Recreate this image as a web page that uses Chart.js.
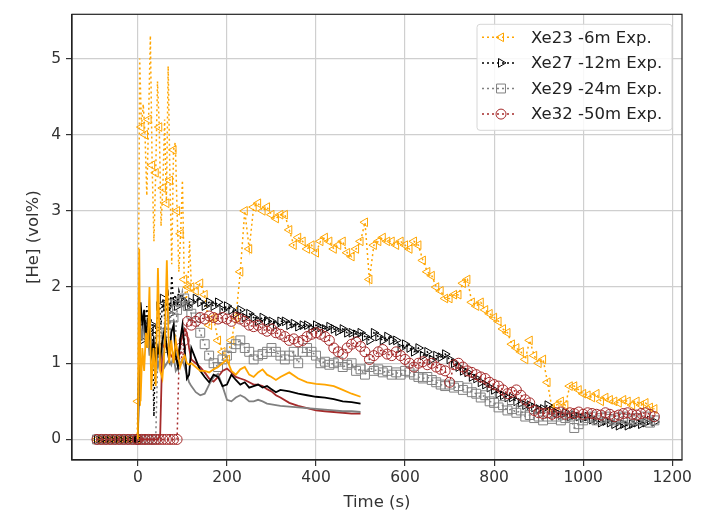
<!DOCTYPE html>
<html>
<head>
<meta charset="utf-8">
<title>[He] vs time</title>
<script src="https://cdn.jsdelivr.net/npm/chart.js@4.4.0/dist/chart.umd.min.js"></script>
<style>
  html, body { margin: 0; padding: 0; background: #fff; }
  #wrap { width: 704px; height: 513px; }
</style>
</head>
<body>
<div id="wrap"><canvas id="heChart" width="704" height="513"></canvas></div>
<script>
// measurement times (s), shared by the four sensors
const expTime = [
  -92, -82, -72, -62, -52, -42, -32, -22, -12, -2,
  0, 4, 8, 12, 16, 20, 24, 28, 32, 36, 40, 44, 48, 52, 56, 60, 64, 68, 72, 76,
  80, 84, 88, 92, 96, 100, 104, 108, 112, 116, 120,
  130, 140, 150, 160, 170, 180, 190, 200, 210, 220,
  230, 240, 250, 260, 270, 280, 290, 300, 310, 320,
  330, 340, 350, 360, 370, 380, 390, 400, 410, 420,
  430, 440, 450, 460, 470, 480, 490, 500, 510, 520,
  530, 540, 550, 560, 570, 580, 590, 600, 610, 620,
  630, 640, 650, 660, 670, 680, 690, 700, 710, 720,
  730, 740, 750, 760, 770, 780, 790, 800, 810, 820,
  830, 840, 850, 860, 870, 880, 890, 900, 910, 920,
  930, 940, 950, 960, 970, 980, 990, 1000, 1010, 1020,
  1030, 1040, 1050, 1060, 1070, 1080, 1090, 1100, 1110, 1120,
  1130, 1140, 1150, 1160
];

// measured [He] vol%
const xe23 = [
  0, 0, 0, 0, 0, 0, 0, 0, 0, 0,
  0.5, 5.0, 4.1, 4.4, 4.0, 3.2, 4.2, 5.3, 3.6, 2.6, 3.5, 4.7, 4.1, 2.8, 3.3, 4.2, 3.1, 4.9, 3.4, 2.3,
  3.8, 3.9, 3.0, 2.2, 2.7, 3.4, 2.1, 1.8, 2.0, 2.6, 2.0,
  1.95, 2.05, 1.9, 1.5, 1.6, 1.3, 1.15, 1.05, 1.3, 1.6,
  2.2, 3.0, 2.5, 3.05, 3.1, 3.0, 3.05, 2.95, 2.9, 2.95,
  2.95, 2.75, 2.55, 2.65, 2.6, 2.5, 2.55, 2.45, 2.6, 2.65,
  2.6, 2.5, 2.55, 2.6, 2.45, 2.4, 2.5, 2.6, 2.85, 2.1,
  2.55, 2.6, 2.65, 2.6, 2.6, 2.55, 2.6, 2.55, 2.5, 2.6,
  2.55, 2.35, 2.2, 2.15, 2.0, 1.95, 1.85, 1.85, 1.9, 1.9,
  2.05, 2.1, 1.8, 1.75, 1.8, 1.7, 1.65, 1.6, 1.55, 1.45,
  1.4, 1.25, 1.2, 1.15, 1.05, 1.3, 1.1, 1.0, 1.05, 0.75,
  0.4, 0.45, 0.5, 0.45, 0.7, 0.7, 0.65, 0.6, 0.58, 0.55,
  0.6, 0.5, 0.55, 0.52, 0.5, 0.48, 0.52, 0.5, 0.45, 0.5,
  0.45, 0.48, 0.42, 0.4
];
const xe27 = [
  0, 0, 0, 0, 0, 0, 0, 0, 0, 0,
  0, 1.8, 1.3, 1.6, 1.5, 1.75, 1.4, 1.6, 1.5, 0.3, 1.45, 1.6, 1.75, 1.5, 1.85, 1.6, 1.75, 1.9, 1.65, 2.15,
  1.8, 1.9, 1.75, 1.95, 1.85, 1.9, 1.8, 1.85, 1.75, 1.8, 1.8,
  1.85, 1.8, 1.75, 1.8, 1.75, 1.8, 1.7, 1.75, 1.7, 1.65,
  1.7, 1.6, 1.65, 1.6, 1.55, 1.6, 1.55, 1.55, 1.5, 1.55,
  1.55, 1.5, 1.52, 1.48, 1.5, 1.5, 1.45, 1.5, 1.47, 1.45,
  1.48, 1.45, 1.42, 1.45, 1.4, 1.4, 1.38, 1.4, 1.35, 1.3,
  1.4, 1.35, 1.3, 1.35, 1.3, 1.3, 1.2, 1.25, 1.2, 1.15,
  1.2, 1.1, 1.15, 1.05, 1.1, 1.08, 1.12, 1.05, 1.0, 0.95,
  0.9, 0.88, 0.82, 0.8, 0.75, 0.72, 0.68, 0.65, 0.6, 0.58,
  0.55, 0.55, 0.5, 0.48, 0.45, 0.45, 0.42, 0.4, 0.4, 0.45,
  0.38, 0.35, 0.32, 0.35, 0.3, 0.32, 0.3, 0.28, 0.3, 0.26,
  0.25, 0.22, 0.24, 0.22, 0.2, 0.18, 0.2, 0.18, 0.2, 0.22,
  0.2, 0.22, 0.25, 0.23
];
const xe29 = [
  0, 0, 0, 0, 0, 0, 0, 0, 0, 0,
  0, 0, 0, 0, 0, 0, 0, 0, 0, 0, 0, 0.95, 1.3, 1.5, 1.2, 1.6, 1.4, 1.75, 1.5, 1.85,
  1.6, 1.3, 1.7, 1.9, 1.8, 1.95, 1.85, 1.8, 1.75, 1.7, 1.65,
  1.6, 1.4, 1.25, 1.1, 1.0, 0.95, 1.05, 1.1, 1.2, 1.25,
  1.3, 1.2, 1.15, 1.05, 1.1, 1.12, 1.15, 1.2, 1.15, 1.1,
  1.05, 1.1, 1.15, 1.0, 1.15, 1.2, 1.15, 1.1, 1.0, 1.02,
  0.98, 1.0, 1.02, 0.95, 0.98, 1.0, 0.9, 0.92, 0.85, 0.95,
  0.9, 0.92, 0.88, 0.9, 0.85, 0.88, 0.85, 0.9, 0.88, 0.85,
  0.82, 0.8, 0.82, 0.78, 0.75, 0.72, 0.7, 0.72, 0.68, 0.7,
  0.65, 0.68, 0.62, 0.6, 0.55, 0.58, 0.5, 0.48, 0.42, 0.45,
  0.38, 0.4, 0.35, 0.38, 0.3, 0.32, 0.28, 0.3, 0.25, 0.3,
  0.27, 0.3, 0.25, 0.28, 0.3, 0.15, 0.2, 0.25, 0.28, 0.3,
  0.25, 0.28, 0.3, 0.27, 0.25, 0.28, 0.3, 0.27, 0.25, 0.28,
  0.25, 0.3, 0.22, 0.25
];
const xe32 = [
  0, 0, 0, 0, 0, 0, 0, 0, 0, 0,
  0, 0, 0, 0, 0, 0, 0, 0, 0, 0, 0, 0, 0, 0, 0, 0, 0, 0, 0, 0,
  0, 0, 0, 0.95, 1.2, 1.0, 1.3, 1.45, 1.55, 1.6, 1.5,
  1.55, 1.6, 1.58, 1.62, 1.6, 1.58, 1.6, 1.58, 1.55, 1.6,
  1.58, 1.55, 1.5, 1.48, 1.5, 1.45, 1.42, 1.45, 1.4, 1.38,
  1.35, 1.3, 1.32, 1.28, 1.3, 1.35, 1.38, 1.4, 1.38, 1.35,
  1.3, 1.2, 1.15, 1.12, 1.2, 1.25, 1.28, 1.22, 1.15, 1.05,
  1.1, 1.15, 1.18, 1.12, 1.1, 1.15, 1.1, 1.05, 1.0, 0.95,
  1.0, 1.02, 0.98, 1.0, 0.95, 0.92, 0.9, 0.75, 0.98, 1.0,
  0.95, 0.9, 0.88, 0.85, 0.82, 0.8, 0.75, 0.72, 0.7, 0.65,
  0.6, 0.62, 0.65, 0.58, 0.52, 0.48, 0.38, 0.35, 0.34, 0.35,
  0.33, 0.35, 0.36, 0.33, 0.35, 0.34, 0.36, 0.33, 0.35, 0.34,
  0.33, 0.32, 0.35, 0.33, 0.3, 0.32, 0.34, 0.35, 0.33, 0.32,
  0.34, 0.35, 0.33, 0.3
];

// simulated [He] vol% (first 500 s)
const simTime = [
  0, 3, 6, 10, 14, 18, 22, 26,
  30, 35, 40, 45, 50, 55, 60, 65, 70, 75, 80, 85, 90, 95, 100, 105, 110, 115, 120,
  130, 140, 150, 160, 170, 180, 190, 200, 210, 220, 230, 240, 250, 260, 270, 280, 290, 300, 310, 320,
  340, 360, 380, 400, 420, 440, 460, 480, 500
];
const simXe23 = [
  0, 2.5, 0.5, 1.2, 0.9, 1.4, 1.2, 2.0,
  0.65, 1.2, 0.7, 2.25, 0.9, 0.8, 1.2, 2.35, 1.0, 1.3, 1.0, 1.3, 1.1, 0.95, 1.05, 1.1, 1.0, 0.98, 1.0,
  0.95, 0.9, 0.9, 0.88, 0.92, 0.95, 1.0, 1.05, 0.9, 0.85, 0.92, 0.95, 0.85, 0.82, 0.88, 0.92, 0.85, 0.82, 0.78, 0.82,
  0.88, 0.8, 0.75, 0.73, 0.72, 0.7, 0.65, 0.6, 0.56
];
const simXe27 = [
  0, 1.2, 1.8, 1.5, 1.7, 1.3, 1.6, 1.4,
  1.1, 1.3, 1.0, 1.2, 1.05, 1.3, 1.45, 1.2, 1.05, 1.4, 1.5, 1.1, 0.95, 1.3, 1.5, 1.2, 0.8, 0.85, 1.2,
  1.05, 0.9, 0.82, 0.75, 0.85, 0.82, 0.7, 0.72, 0.85, 0.78, 0.72, 0.75, 0.68, 0.7, 0.72, 0.68, 0.7, 0.66, 0.62, 0.65,
  0.63, 0.6, 0.58, 0.56, 0.55, 0.53, 0.5, 0.49, 0.47
];
const simXe29 = [
  0, 0.8, 1.5, 1.3, 1.6, 1.2, 1.4, 1.1,
  1.3, 1.0, 1.15, 0.95, 1.1, 1.2, 0.95, 1.0, 1.05, 0.98, 1.1, 0.9, 0.95, 1.0, 1.05, 0.95, 0.85, 0.75, 0.7,
  0.62, 0.58, 0.6, 0.72, 0.82, 0.86, 0.7, 0.52, 0.5, 0.55, 0.58, 0.55, 0.5, 0.5, 0.52, 0.5, 0.47, 0.46, 0.45, 0.44,
  0.43, 0.42, 0.41, 0.4, 0.39, 0.38, 0.37, 0.37, 0.36
];
const simXe32 = [
  0, 0, 0, 0, 0, 0, 0, 0,
  0, 0, 0, 0, 0.05, 1.2, 1.25, 1.2, 1.15, 1.1, 1.05, 1.05, 1.1, 1.25, 1.35, 1.45, 1.4, 1.2, 1.05,
  1.0, 0.95, 0.88, 0.8, 0.76, 0.82, 0.9, 0.93, 0.88, 0.82, 0.8, 0.78, 0.75, 0.72, 0.72, 0.7, 0.66, 0.63, 0.58, 0.55,
  0.48, 0.44, 0.41, 0.38, 0.37, 0.36, 0.35, 0.34, 0.34
];

const xTicks = [0, 200, 400, 600, 800, 1000, 1200];
const yTicks = [0, 1, 2, 3, 4, 5];
const expLabels = ['Xe23 -6m Exp.', 'Xe27 -12m Exp.', 'Xe29 -24m Exp.', 'Xe32 -50m Exp.'];
const colors = ['#ffa500', '#000000', '#808080', '#a52a2a'];
const markers = [
  { pointStyle: 'triangle', rotation: -90, radius: 5 },
  { pointStyle: 'triangle', rotation: 90, radius: 5 },
  { pointStyle: 'rect', rotation: 0, radius: 6.3 },
  { pointStyle: 'circle', rotation: 0, radius: 5 }
];

const FONT = 'DejaVu Sans';

function pairs(xs, ys) {
  return xs.map((x, i) => ({ x: x, y: ys[i] }));
}

// during the fast release phase only every other sample gets a marker
function markerRadius(r) {
  return ctx => {
    const t = expTime[ctx.dataIndex];
    if (t >= 0 && t <= 120 && t % 8 !== 0) return 0;
    return r;
  };
}

function expSet(i, values) {
  return {
    label: expLabels[i],
    data: pairs(expTime, values),
    borderColor: colors[i],
    borderWidth: 1.5,
    borderDash: [2, 3],
    pointStyle: markers[i].pointStyle,
    rotation: markers[i].rotation,
    pointRadius: markerRadius(markers[i].radius),
    pointBorderWidth: 1,
    pointBorderColor: colors[i],
    pointBackgroundColor: 'rgba(0,0,0,0)',
    fill: false,
    order: 5 - i
  };
}

function simSet(i, values) {
  return {
    label: '',
    data: pairs(simTime, values),
    borderColor: colors[i],
    borderWidth: 1.8,
    pointRadius: 0,
    fill: false,
    order: 0
  };
}

// frame on all four sides + legend box in the upper right corner
const frameAndLegend = {
  id: 'frameAndLegend',
  afterDraw(chart) {
    const ctx = chart.ctx;
    const a = chart.chartArea;
    ctx.save();
    ctx.strokeStyle = '#222';
    ctx.lineWidth = 1.2;
    ctx.strokeRect(a.left, a.top, a.right - a.left, a.bottom - a.top);

    const boxW = 195, boxH = 106;
    const bx = a.right - 10 - boxW, by = a.top + 10;
    ctx.fillStyle = 'rgba(255,255,255,0.85)';
    ctx.strokeStyle = '#d6d6d6';
    ctx.lineWidth = 1;
    ctx.beginPath();
    ctx.roundRect(bx, by, boxW, boxH, 3);
    ctx.fill();
    ctx.stroke();

    ctx.font = '16.5px "' + FONT + '"';
    ctx.textBaseline = 'middle';
    for (let i = 0; i < expLabels.length; i++) {
      const y = by + 13 + i * 25.6;
      ctx.strokeStyle = colors[i];
      ctx.lineWidth = 1.5;
      ctx.setLineDash([2, 3]);
      ctx.beginPath();
      ctx.moveTo(bx + 5, y);
      ctx.lineTo(bx + 40, y);
      ctx.stroke();
      ctx.setLineDash([]);
      ctx.lineWidth = 1;
      ctx.fillStyle = 'rgba(0,0,0,0)';
      Chart.helpers.drawPoint(ctx, {
        pointStyle: markers[i].pointStyle,
        rotation: markers[i].rotation,
        radius: markers[i].radius,
        borderWidth: 1
      }, bx + 24, y);
      ctx.fillStyle = '#222';
      ctx.fillText(expLabels[i], bx + 54, y + 1);
    }
    ctx.restore();
  }
};

new Chart(document.getElementById('heChart'), {
  type: 'line',
  data: {
    datasets: [
      expSet(0, xe23), expSet(1, xe27), expSet(2, xe29), expSet(3, xe32),
      simSet(0, simXe23), simSet(1, simXe27), simSet(2, simXe29), simSet(3, simXe32)
    ]
  },
  options: {
    responsive: false,
    animation: false,
    devicePixelRatio: 1,
    layout: { padding: { left: 0, top: 7, right: 22, bottom: 0 } },
    plugins: { legend: { display: false }, tooltip: { enabled: false } },
    scales: {
      x: {
        type: 'linear',
        min: -148,
        max: 1222,
        afterBuildTicks: s => { s.ticks = xTicks.map(v => ({ value: v })); },
        afterFit: s => { s.height = 53; },
        grid: { color: '#cfcfcf', lineWidth: 1.2, tickColor: '#333', tickLength: 6 },
        border: { color: '#222', width: 1.2 },
        ticks: { color: '#333', font: { family: FONT, size: 15.5 }, padding: 3, maxRotation: 0, callback: v => String(v) },
        title: { display: true, text: 'Time (s)', color: '#333', font: { family: FONT, size: 16.5 }, padding: { top: 0, bottom: 0 } }
      },
      y: {
        type: 'linear',
        min: -0.27,
        max: 5.58,
        afterBuildTicks: s => { s.ticks = yTicks.map(v => ({ value: v })); },
        afterFit: s => { s.width = 72; },
        grid: { color: '#cfcfcf', lineWidth: 1.2, tickColor: '#333', tickLength: 6 },
        border: { color: '#222', width: 1.2 },
        ticks: { color: '#333', font: { family: FONT, size: 15.5 }, padding: 5, callback: v => String(v) },
        title: { display: true, text: '[He] (vol%)', color: '#333', font: { family: FONT, size: 16.5 }, padding: { top: 24, bottom: 0 } }
      }
    }
  },
  plugins: [frameAndLegend]
});
</script>
</body>
</html>
